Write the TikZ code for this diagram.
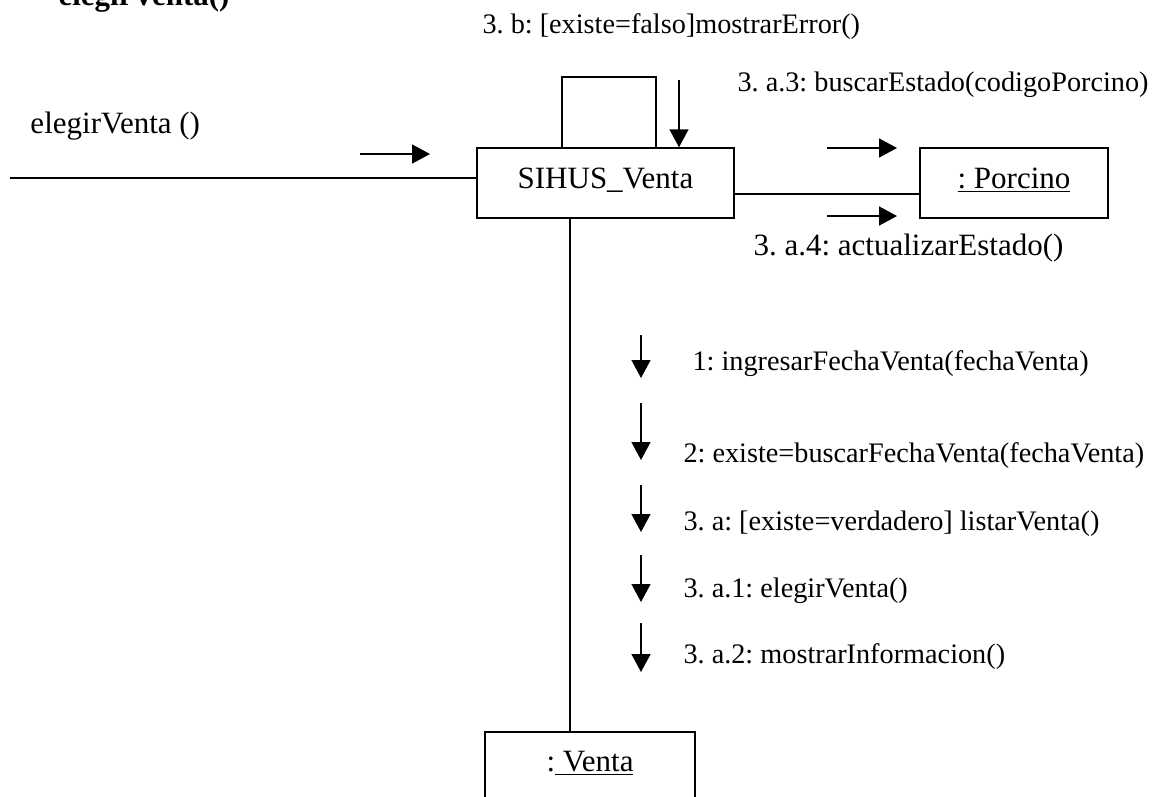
\documentclass[tikz,border=0pt]{standalone}
\usepackage{fontspec}
\setmainfont{Liberation Serif}
\usetikzlibrary{arrows.meta, positioning}
\frenchspacing

\begin{document}
\begin{tikzpicture}[
  x=0.4pt, y=-0.4pt,
  obj/.style={draw, line width=0.6pt, inner sep=0pt},
  lbl/.style={anchor=base west, inner sep=0pt, font=\fontsize{12.4}{15}\selectfont},
  small/.style={lbl, font=\fontsize{11.3}{14}\selectfont},
  link/.style={line width=0.6pt},
  msg/.style={line width=0.6pt, -{Triangle[length=7.2pt, width=7.6pt]}}
]
\useasboundingbox (0,0) rectangle (1165,796);

% ---- objects ----
\node[obj, minimum width=102.8pt, minimum height=28pt] (sihus) at (605.5,183) {};
\node[lbl, anchor=base] at (605.5,188) {SIHUS\_Venta};
\node[obj, minimum width=75.2pt, minimum height=28pt] (porcino) at (1014,183) {};
\node[lbl, anchor=base] at (1014,188) {\underline{: Porcino}};
\node[obj, minimum width=84pt, minimum height=40pt, anchor=north] (venta) at (590,731) {};
\node[lbl, anchor=base] at (590,771) {:\underline{\ Venta}};

% ---- links ----
\coordinate (actor) at (10,178);
\draw[link] (actor) -- (sihus.west |- actor);
\draw[link] (sihus.east |- 0,194) -- (porcino.west |- 0,194);
\draw[link] (sihus.south -| 570,0) -- (venta.north -| 570,0);
\draw[link] (sihus.north -| 562,0) |- (656,77) -- (sihus.north -| 656,0);

% ---- messages ----
\node[lbl, font=\fontsize{12.4}{15}\selectfont\bfseries] at (58,5) {elegirVenta()};
\node[lbl] at (30,133) {elegirVenta ()};
\draw[msg] (360,154) -- (430,154);

\node[small] at (482,33) {3. b: [existe=falso]mostrarError()};
\draw[msg] (679,80) -- (sihus.north -| 679,0);

\node[small] at (737,91) {3. a.3: buscarEstado(codigoPorcino)};
\draw[msg] (827,148) -- (897,148);
\draw[msg] (827,216) -- (897,216);
\node[lbl] at (753,255) {3. a.4: actualizarEstado()};

% ---- messages to Venta ----
\foreach \ya/\yb/\yt/\xt/\txt in {
  335/378/370/692/{1: ingresarFechaVenta(fechaVenta)},
  403/460/462/683/{2: existe=buscarFechaVenta(fechaVenta)},
  485/532/530/683/{3. a: [existe=verdadero] listarVenta()},
  555/602/597/683/{3. a.1: elegirVenta()},
  623/672/663/683/{3. a.2: mostrarInformacion()}} {
  \draw[msg] (641,\ya) -- (641,\yb);
  \node[small] at (\xt,\yt) {\txt};
}
\end{tikzpicture}
\end{document}
